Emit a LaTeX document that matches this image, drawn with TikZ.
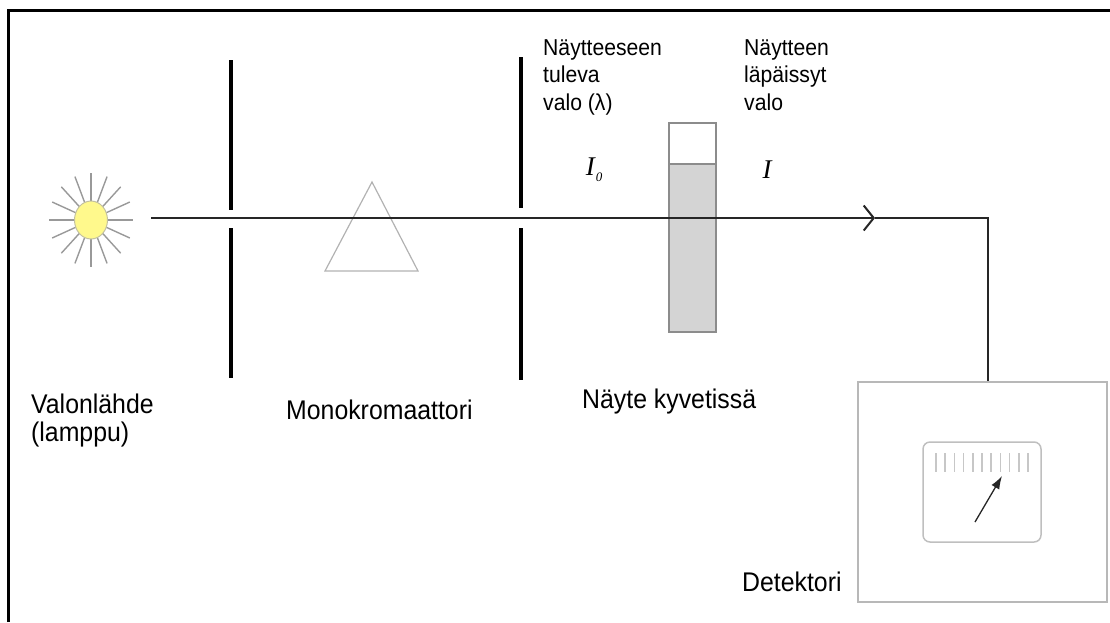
\documentclass[tikz,border=0pt]{standalone}
\usepackage{fontspec}
\setmainfont[FakeStretch=0.92]{Liberation Sans}
\newfontfamily\timesfont{Liberation Serif}
\usetikzlibrary{arrows.meta, positioning, shapes.geometric, calc}

\begin{document}
\begin{tikzpicture}[
  x=1pt, y=-1pt,
  slit/.style={line width=4pt, black},
  beam/.style={line width=2pt, draw=black!85},
  ray/.style={line width=1.4pt, black!40},
  lbl/.style={anchor=base west, inner sep=0pt, align=left,
    font=\fontsize{27}{28}\selectfont},
  small lbl/.style={anchor=base west, inner sep=0pt, align=left,
    font=\fontsize{23}{27.5}\selectfont},
  intensity/.style={inner sep=0pt, font=\fontsize{27}{27}\selectfont\timesfont\itshape},
  tick/.style={line width=1.6pt, black!22},
]
  \useasboundingbox (0,0) rectangle (1110,622);

  % Frame
  \draw[line width=3pt] (8,622) -- (8,10) -- (1110,10);

  % Lamp
  \coordinate (lampc) at (91,220);
  \foreach \a in {0,22.5,...,337.5}
    \draw[ray] ($(lampc)+(\a:12 and 14)$) -- ($(lampc)+(\a:42 and 47)$);
  \node[ellipse, minimum width=33, minimum height=38, inner sep=0pt,
    fill=yellow!45, draw=yellow!40!black!45, line width=1pt] (lamp) at (lampc) {};

  % Slits
  \draw[slit] (231,60) -- (231,210) (231,228) -- (231,378);
  \draw[slit] (521,57) -- (521,208) (521,228) -- (521,380);

  % Prism
  \draw[black!30, line width=1.2pt] (325,271) -- (372,182) -- (418,271) -- cycle;

  % Cuvette
  \fill[black!17] (669,164) rectangle (716,332);
  \draw[black!45, line width=1.2pt] (669,123) rectangle (716,332) (669,164) -- (716,164);

  % Detector
  \node[draw=black!28, line width=2pt, minimum width=249, minimum height=220,
    inner sep=0pt] (detector) at (982.5,492) {};
  \node[draw=black!25, line width=1.5pt, rounded corners=7pt,
    minimum width=118, minimum height=100, inner sep=0pt] (meter) at (982,492) {};
  \foreach \i in {0,...,10}
    \draw[tick] (936+9.2*\i,453) -- ++(0,19);
  \draw[line width=1.3pt, black!85, -{Latex[length=13pt, width=9pt]}] (975,522) -- (1002,476);

  % Beam and wire
  \coordinate (beamin) at (151,218);
  \coordinate (beamtip) at (875,218);
  \coordinate (wirecorner) at (988,218);
  \draw[beam, -{Straight Barb[length=10pt, width=25pt]}] (beamin) -- (beamtip);
  \draw[beam] (beamtip) -- (wirecorner) -- (wirecorner |- detector.north);

  % Labels (base anchor sits on the last line)
  \node[lbl] (lamplbl) at (31,441) {Valonlähde\\(lamppu)};
  \node[lbl] (monolbl) at (286,419) {Monokromaattori};
  \node[lbl] (samplelbl) at (582,408) {Näyte kyvetissä};
  \node[lbl] (detlbl) at (742,591) {Detektori};
  \node[small lbl] (inlbl) at (543,110) {Näytteeseen\\tuleva\\valo (λ)};
  \node[small lbl] (outlbl) at (744,110) {Näytteen\\läpäissyt\\valo};
  \node[intensity] (I0) at (594,170) {I\kern1pt\raisebox{-6pt}{\fontsize{13}{13}\selectfont 0}};
  \node[intensity] (I) at (767,170) {I};
\end{tikzpicture}
\end{document}
